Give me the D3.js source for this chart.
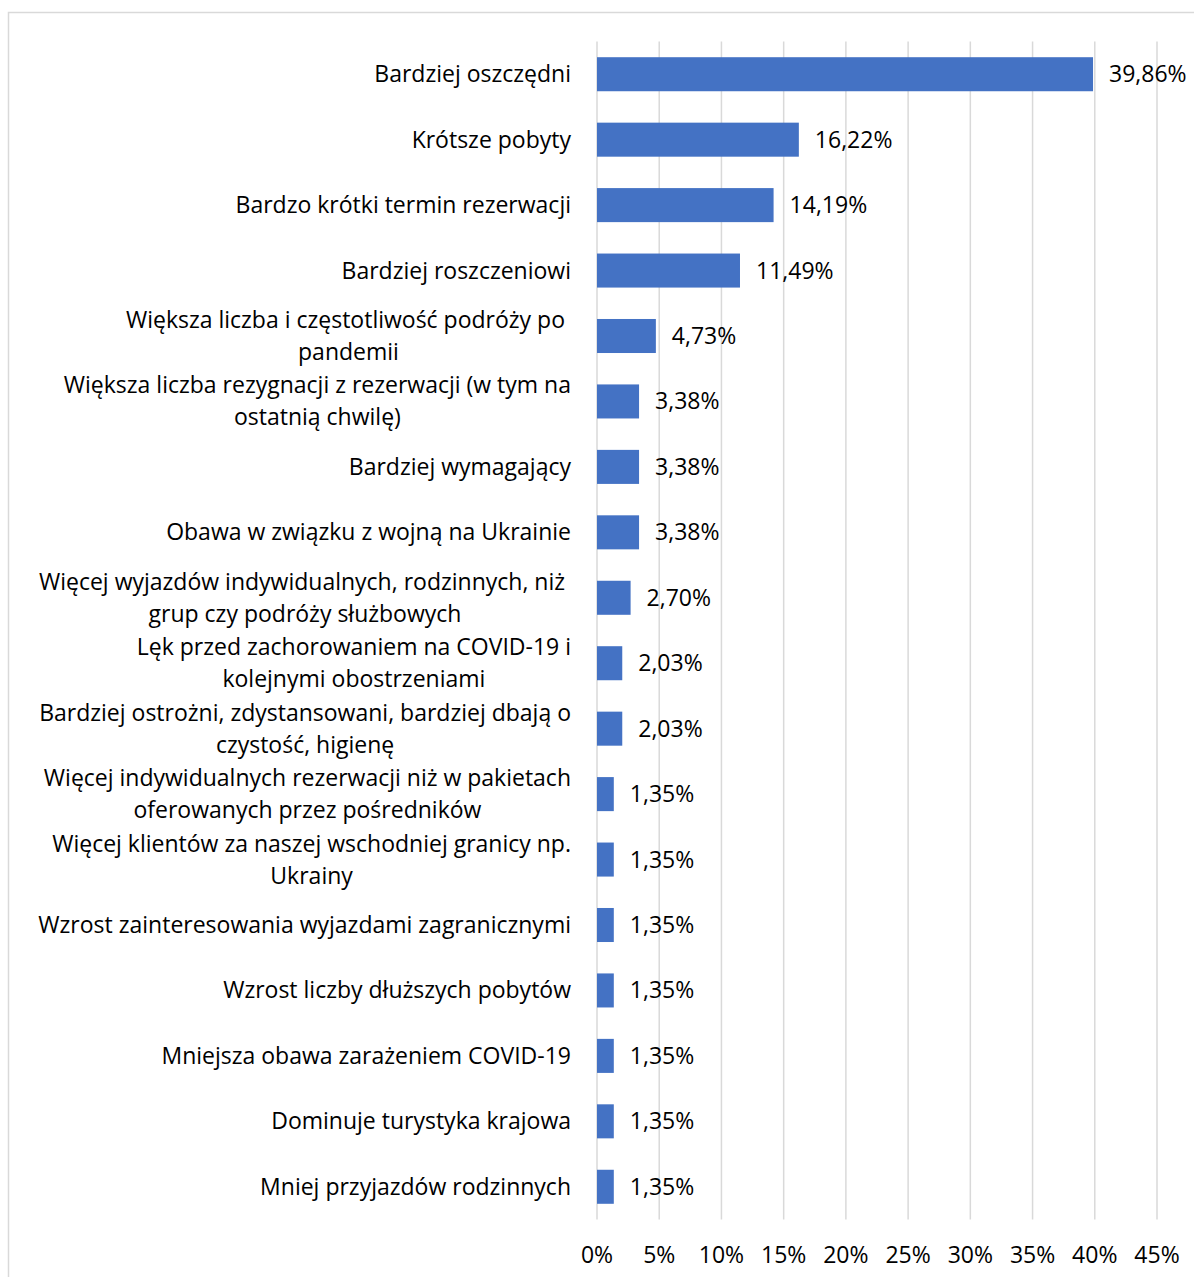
<!DOCTYPE html>
<html><head><meta charset="utf-8">
<script src="https://cdn.jsdelivr.net/npm/d3@7"></script>
<style>
html,body{margin:0;padding:0;background:#fff;}
text{font-family:"Open Sans","Noto Sans",sans-serif;fill:#000;white-space:pre;}
</style></head>
<body>
<script>
const categories = [
  "Bardziej oszczędni",
  "Krótsze pobyty",
  "Bardzo krótki termin rezerwacji",
  "Bardziej roszczeniowi",
  "Większa liczba i częstotliwość podróży po \npandemii",
  "Większa liczba rezygnacji z rezerwacji (w tym na\nostatnią chwilę)",
  "Bardziej wymagający",
  "Obawa w związku z wojną na Ukrainie",
  "Więcej wyjazdów indywidualnych, rodzinnych, niż \ngrup czy podróży służbowych",
  "Lęk przed zachorowaniem na COVID-19 i\nkolejnymi obostrzeniami",
  "Bardziej ostrożni, zdystansowani, bardziej dbają o\nczystość, higienę",
  "Więcej indywidualnych rezerwacji niż w pakietach\noferowanych przez pośredników",
  "Więcej klientów za naszej wschodniej granicy np.\nUkrainy",
  "Wzrost zainteresowania wyjazdami zagranicznymi",
  "Wzrost liczby dłuższych pobytów",
  "Mniejsza obawa zarażeniem COVID-19",
  "Dominuje turystyka krajowa",
  "Mniej przyjazdów rodzinnych"
];
const values = [39.86,16.22,14.19,11.49,4.73,3.38,3.38,3.38,2.70,2.03,2.03,1.35,1.35,1.35,1.35,1.35,1.35,1.35];
const tickValues = [0,5,10,15,20,25,30,35,40,45];

const W = 1194, H = 1277;
const FS = 23;
const svg = d3.select("body").append("svg").attr("width", W).attr("height", H);

svg.append("rect").attr("x",8.5).attr("y",12.5).attr("width",1200).attr("height",1300)
  .attr("fill","none").attr("stroke","#d9d9d9").attr("stroke-width",1.5);

const x = d3.scaleLinear().domain([0,45]).range([597,1157]);
const y = d3.scaleBand().domain(d3.range(categories.length)).range([41.5,1219.5]).paddingInner(0.48).paddingOuter(0.24);

// gridlines
svg.append("g").selectAll("line").data(tickValues).join("line")
  .attr("x1",d=>x(d)).attr("x2",d=>x(d)).attr("y1",41.5).attr("y2",1219.5)
  .attr("stroke","#d9d9d9").attr("stroke-width",1.5);

// bars
svg.append("g").selectAll("rect").data(values).join("rect")
  .attr("x",x(0)).attr("y",(d,i)=>y(i)).attr("width",d=>x(d)-x(0)).attr("height",y.bandwidth())
  .attr("fill","#4472C4");

// value labels
const fmt = v => v.toFixed(2).replace(".",",")+"%";
svg.append("g").selectAll("text").data(values).join("text")
  .attr("x",d=>x(d)+16).attr("y",(d,i)=>y(i)+y.bandwidth()/2+8)
  .attr("font-size",FS).text(fmt);

// category labels
const labelRight = 571, lineH = 32;
const lg = svg.append("g");
categories.forEach((c,i)=>{
  const lines = c.split("\n");
  const cy = y(i)+y.bandwidth()/2;
  const t = lg.append("text").attr("font-size",FS).attr("text-anchor","middle");
  const spans = lines.map((ln,k)=> t.append("tspan").text(ln)
      .attr("y", cy + 8 + (k-(lines.length-1)/2)*lineH));
  const maxW = d3.max(spans, s=>s.node().getComputedTextLength());
  spans.forEach(s=>s.attr("x", labelRight - maxW/2));
});

// axis tick labels
svg.append("g").selectAll("text").data(tickValues).join("text")
  .attr("x",d=>x(d)).attr("y",1263).attr("text-anchor","middle")
  .attr("font-size",FS).text(d=>d+"%");
</script>
</body></html>
